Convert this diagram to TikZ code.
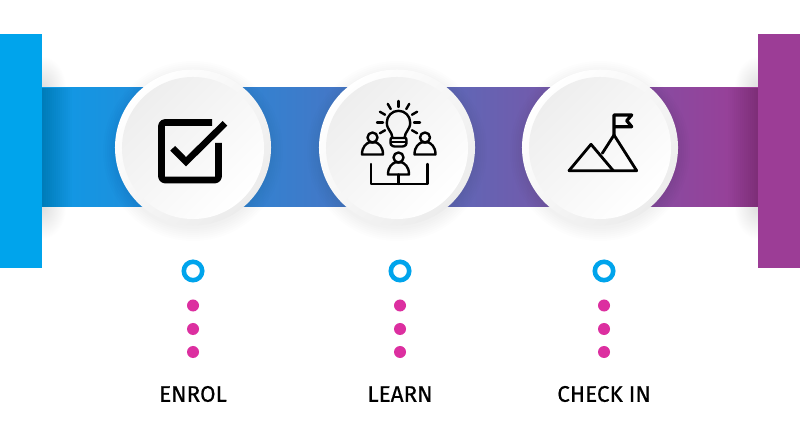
\documentclass[tikz,border=0pt]{standalone}
\usepackage{fontspec}
\setsansfont{Fira Sans}
\newfontfamily\labfont[FakeBold=0.5]{Fira Sans}
\usetikzlibrary{calc}
\definecolor{barblue}{HTML}{00A4EC}
\definecolor{barpurple}{HTML}{9C3D96}
\definecolor{dotpink}{HTML}{DC2FA0}
\definecolor{ringgray}{HTML}{ECECEC}
\definecolor{facegray}{HTML}{EEEEEE}
\definecolor{facemid}{HTML}{FCFCFC}
\definecolor{bandleft}{HTML}{0E9AE6}
\definecolor{bandmidA}{HTML}{3C7CCB}
\definecolor{bandmidB}{HTML}{6A60B0}
\pgfdeclarehorizontalshading{bandfill}{100bp}{color(0bp)=(bandleft);
  color(25bp)=(bandleft); color(43bp)=(bandmidA); color(57bp)=(bandmidB);
  color(75bp)=(barpurple); color(100bp)=(barpurple)}
\begin{document}
\begin{tikzpicture}[x=0.025cm, y=-0.025cm, font=\sffamily,
      bar/.style={draw=none, inner sep=0pt, minimum width=1.05cm, minimum height=5.85cm},
      rim/.style={circle, inner sep=0pt, minimum size=3.9cm, top color=white, bottom color=ringgray, shading angle=45},
      face/.style={circle, inner sep=0pt, minimum size=3.55cm, top color=facegray, middle color=facemid, bottom color=white, shading angle=45},
      ring/.style={circle, draw=barblue, line width=0.115cm, inner sep=0pt, minimum size=0.46cm},
      dot/.style={circle, fill=dotpink, inner sep=0pt, minimum size=0.3cm},
      lab/.style={font=\labfont\fontsize{16}{16}\selectfont, text=black, inner sep=0pt},
      thickicon/.style={draw=black, line width=0.165cm, line join=round},
      thinicon/.style={draw=black, line width=0.06cm, line join=round, line cap=round},
      glow/.style={inner color=black!13, outer color=white}]
    \useasboundingbox (0,0) rectangle (800,444);
    \fill[white] (0,0) rectangle (800,444);
    % shadows beside the two bars
    \foreach \cx in {42,758} {
      \shade[glow] (\cx,88) ellipse (24 and 32);
      \shade[glow] (\cx,207) ellipse (24 and 32);
    }
    % band between the two bars
    \shade[shading=bandfill] (42,88) rectangle (758,207);
    \foreach \w in {2,4,...,30} {
      \fill[black, opacity=0.012] (42,88) rectangle (42+\w,207);
      \fill[black, opacity=0.012] (758,88) rectangle (758-\w,207);
    }
    \node[bar, fill=barblue] (barL) at (21,151) {};
    \node[bar, fill=barpurple] (barR) at (779,151) {};
    % soft shadows under the discs
    \foreach \cx in {193,397,600} {
      \foreach \r in {90,88,86,84,82,80,78} {
        \fill[black, opacity=0.006] (\cx,151) circle (\r);
      }
    }
    \node[rim] (rimA) at (193,147.5) {};
    \node[rim] (rimB) at (397,147.5) {};
    \node[rim] (rimC) at (600,147.5) {};
    \node[face] (faceA) at (193,148) {};
    \node[face] (faceB) at (397,148) {};
    \node[face] (faceC) at (600,148) {};
    % check box
    \draw[thickicon, rounded corners=0.08cm] (212,122.5) -- (161.5,122.5) -- (161.5,180) -- (218.5,180) -- (218.5,143);
    \draw[thickicon, line join=miter] (172.7,148.3) -- (186,161.7) -- (225,123.3);
    % bulb and people
    \draw[thinicon] (392.5,138) .. controls (392,131) and (386.8,130) .. (386.8,122.5)
      arc (180:360:11.7) .. controls (410.2,130) and (405,131) .. (404.5,138) -- cycle;
    \draw[thinicon, rounded corners=0.06cm] (391,138) -- (390,143) -- (392,146.5) -- (405,146.5) -- (407,143) -- (406,138);
    \draw[thinicon] (391,142) -- (406,142);
    \foreach \a in {180,210,240,270,300,330,0,30,150} {
      \draw[thinicon] ($(398.5,122.5)+(\a:15.5)$) -- ($(398.5,122.5)+(\a:21.5)$);
    }
    \foreach \px/\py in {372.5/137.5,425/137.5,398.5/157.5} {
      \draw[thinicon] (\px,\py) circle (5);
      \draw[thinicon] (\px-10.5,\py+17) .. controls (\px-10.5,\py+9) and (\px-6,\py+6) .. (\px-3.5,\py+5)
        -- (\px+3.5,\py+5) .. controls (\px+6,\py+6) and (\px+10.5,\py+9) .. (\px+10.5,\py+17) -- cycle;
    }
    \draw[thinicon] (371,164) -- (371,184) -- (427.3,184) -- (427.3,164);
    \draw[thinicon] (398.5,174.5) -- (398.5,184);
    % mountains and flag
    \draw[thinicon, line width=0.07cm] (569,170.7) -- (636.7,170.7) -- (614,135) -- (602.3,153.3);
    \draw[thinicon, line width=0.07cm] (569,170.7) -- (591,144.3) -- (613.3,170.7);
    \draw[thinicon, line width=0.08cm] (614,135) -- (614,115) -- (631.7,115) -- (626.7,120.7) -- (631.7,126.7) -- (614,126.7);
    % markers under each disc
    \foreach \n/\cx/\txt in {A/193/ENROL,B/400/LEARN,C/604/CHECK IN} {
      \node[ring] (ring\n) at (\cx,271) {};
      \node[dot] (dot\n1) at (\cx,305.5) {};
      \node[dot] (dot\n2) at (\cx,329) {};
      \node[dot] (dot\n3) at (\cx,352) {};
      \node[lab] (lab\n) at (\cx,394) {\txt};
    }
\end{tikzpicture}
\end{document}
